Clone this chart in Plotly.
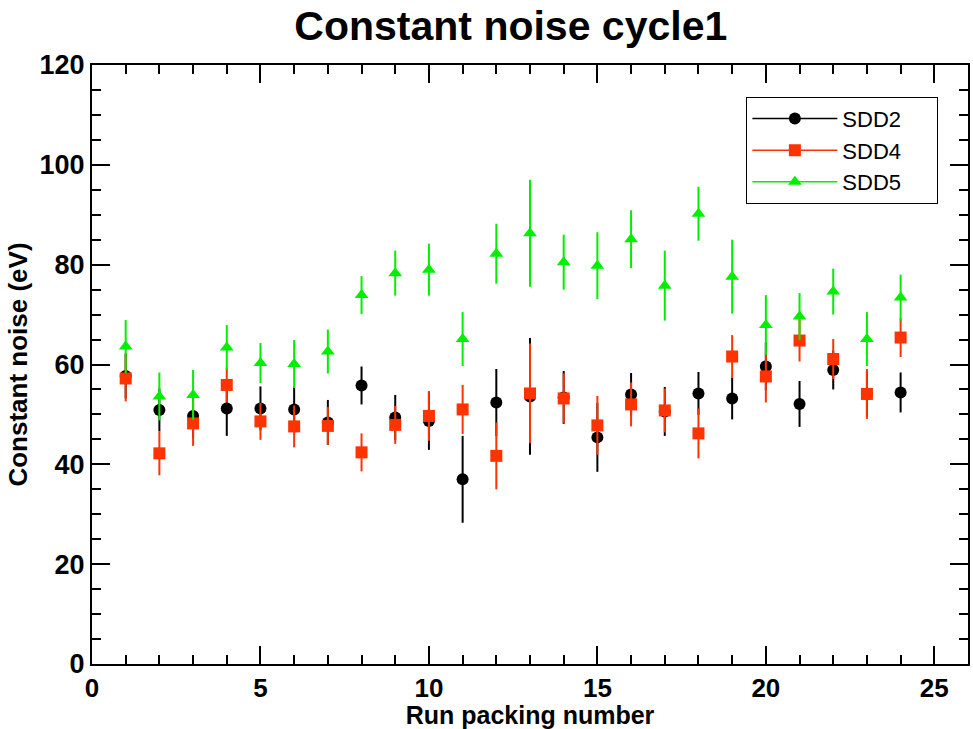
import plotly.graph_objects as go

runs = list(range(1, 25))
sdd2 = [57.7, 50.9, 49.7, 51.2, 51.2, 51.0, 48.4, 55.8, 49.4, 48.7, 37.0, 52.4,
        53.6, 53.4, 45.4, 54.0, 50.6, 54.2, 53.2, 59.6, 52.1, 58.9, 54.1, 54.4]
sdd2_err = [4.5, 4.3, 4.5, 5.5, 4.4, 4.6, 4.5, 3.8, 4.5, 5.8, 8.7, 6.7,
            11.7, 5.3, 6.9, 4.3, 4.9, 4.3, 4.2, 4.8, 4.6, 3.9, 4.5, 4.0]
sdd4 = [57.2, 42.2, 48.2, 55.9, 48.6, 47.6, 47.7, 42.4, 47.9, 49.7, 51.0, 41.7,
        54.2, 53.2, 47.8, 52.0, 50.8, 46.2, 61.6, 57.6, 64.8, 61.1, 54.1, 65.4]
sdd4_err = [4.6, 4.4, 4.5, 3.5, 3.7, 4.2, 3.8, 3.8, 3.8, 5.0, 4.9, 6.7,
            10.0, 5.0, 5.9, 4.4, 4.4, 5.0, 4.3, 5.2, 4.2, 4.0, 5.0, 3.9]
sdd5 = [63.6, 53.6, 53.9, 63.4, 60.3, 60.1, 62.6, 73.9, 78.3, 79.0, 65.1, 82.2,
        86.3, 80.5, 79.8, 85.1, 75.8, 90.2, 77.6, 67.9, 69.6, 74.6, 65.1, 73.4]
sdd5_err = [5.3, 4.8, 5.0, 4.5, 4.0, 4.8, 4.4, 3.8, 4.5, 5.2, 5.4, 6.0,
            10.7, 5.5, 6.7, 5.8, 7.0, 5.4, 7.4, 6.0, 4.7, 4.6, 5.4, 4.6]

series = [
    ("SDD2", sdd2, sdd2_err, "#000000", "circle"),
    ("SDD4", sdd4, sdd4_err, "#ff3300", "square"),
    ("SDD5", sdd5, sdd5_err, "#00ee00", "triangle-up"),
]

FONT = "Liberation Sans, Arial, Helvetica, sans-serif"
PAD = "\u00a0" * 5

fig = go.Figure()
for name, vals, errs, col, sym in series:
    fig.add_trace(go.Scatter(
        x=runs, y=vals, mode="markers", name=name, showlegend=False,
        marker=dict(color=col, symbol=sym, size=12, line=dict(width=0)),
        error_y=dict(type="data", array=errs, visible=True, color=col,
                     thickness=2, width=0),
    ))
for name, vals, errs, col, sym in series:
    fig.add_trace(go.Scatter(
        x=[None], y=[None], mode="lines+markers", name=name + PAD,
        line=dict(color=col, width=1.5),
        marker=dict(color=col, symbol=sym, size=12),
    ))

axis_common = dict(
    showline=True, linecolor="black", linewidth=2, mirror="ticks",
    ticks="inside", tickcolor="black", tickwidth=1.5,
    showgrid=False, zeroline=False,
)

fig.update_layout(
    width=973, height=729,
    margin=dict(l=92, r=3, t=65, b=65),
    paper_bgcolor="white", plot_bgcolor="white",
    title=dict(text="Constant noise cycle1", x=0.525, xanchor="center",
               y=0.965, yanchor="middle",
               font=dict(family=FONT, size=41, color="black", weight="bold")),
    xaxis=dict(range=[0, 26], dtick=5, tick0=0, ticklen=18,
               minor=dict(dtick=1, ticklen=9, ticks="inside", tickcolor="black", tickwidth=1.5, showgrid=False),
               tickfont=dict(family=FONT, size=26, color="black", weight="bold"),
               title=dict(text="Run packing number", standoff=5,
                          font=dict(family=FONT, size=25, color="black", weight="bold")),
               **axis_common),
    yaxis=dict(range=[0, 120], dtick=20, tick0=0, ticklen=18,
               minor=dict(dtick=5, ticklen=9, ticks="inside", tickcolor="black", tickwidth=1.5, showgrid=False),
               tickfont=dict(family=FONT, size=27, color="black", weight="bold"),
               title=dict(text="Constant noise (eV)", standoff=4,
                          font=dict(family=FONT, size=26, color="black", weight="bold")),
               **axis_common),
    legend=dict(x=0.747, y=0.947, xanchor="left", yanchor="top",
                bgcolor="white", bordercolor="black", borderwidth=1,
                font=dict(family=FONT, size=22, color="black"),
                itemwidth=85, tracegroupgap=0),
)

fig.write_html("out.html")
